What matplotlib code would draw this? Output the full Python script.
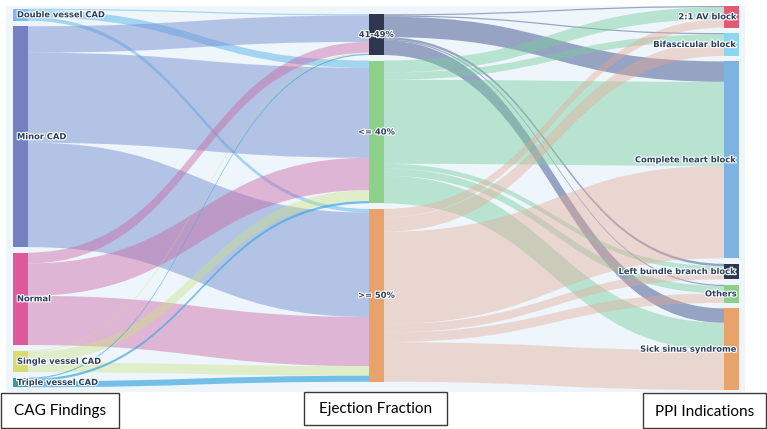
import matplotlib
matplotlib.use('Agg')
import matplotlib.pyplot as plt
import matplotlib.patheffects as pe
from matplotlib.path import Path
from matplotlib.patches import PathPatch, Rectangle

# --- data -------------------------------------------------------------
cag_nodes = ['Double vessel CAD', 'Minor CAD', 'Normal', 'Single vessel CAD', 'Triple vessel CAD']
ef_nodes = ['41-49%', '<= 40%', '>= 50%']
ppi_nodes = ['2:1 AV block', 'Bifascicular block', 'Complete heart block',
             'Left bundle branch block', 'Others', 'Sick sinus syndrome']

# rows: CAG finding, cols: ejection fraction group
cag_to_ef = [[1, 6, 3],
             [22, 75, 87],
             [9, 27, 41],
             [1, 9, 8],
             [1, 2, 5]]
# rows: ejection fraction group, cols: PPI indication
ef_to_ppi = [[1, 1, 17, 2, 1, 12],
             [10, 6, 70, 4, 6, 23],
             [7, 12, 77, 7, 8, 33]]

column_titles = ['CAG Findings', 'Ejection Fraction', 'PPI Indications']

# --- styles -----------------------------------------------------------
cag_colors = ['#82b9e4', '#7480c0', '#e0589c', '#d8dc70', '#2e9fb0']
ef_colors = ['#2f3650', '#8dd08a', '#e8a36c']
ppi_colors = ['#e05a72', '#8ed6f0', '#7eb2e2', '#2f3650', '#8dd08a', '#e8a36c']

cag_link = [(0.40, 0.72, 0.92, 0.55), (0.47, 0.57, 0.82, 0.5), (0.80, 0.40, 0.65, 0.45),
            (0.80, 0.88, 0.50, 0.4), (0.25, 0.66, 0.88, 0.7)]
ef_link = [(0.25, 0.32, 0.55, 0.5), (0.47, 0.80, 0.62, 0.45), (0.90, 0.66, 0.58, 0.4)]

W, H = 767, 429
col_x = [13, 369, 724]
node_w = 15
top, bottom = 6, 390
gap = 5.5
text_col = '#2a3f5f'


def col_totals_out(mat):
    return [sum(r) for r in mat]


def col_totals_in(mat):
    return [sum(r[j] for r in mat) for j in range(len(mat[0]))]


totals = [col_totals_out(cag_to_ef), col_totals_in(cag_to_ef), col_totals_in(ef_to_ppi)]
n_max = max(len(t) for t in totals)
scale = (bottom - top - gap * (n_max - 1)) / max(sum(t) for t in totals)
mid = (top + bottom) / 2

# node y positions (top, bottom) per column
node_pos = []
for t in totals:
    h = sum(t) * scale + gap * (len(t) - 1)
    y = mid - h / 2
    pos = []
    for v in t:
        pos.append([y, y + v * scale])
        y += v * scale + gap
    node_pos.append(pos)

fig = plt.figure(figsize=(W / 100, H / 100), dpi=100)
ax = fig.add_axes([0, 0, 1, 1])
ax.set_xlim(0, W)
ax.set_ylim(H, 0)
ax.axis('off')

ax.add_patch(Rectangle((6, 6), 739, 386, facecolor='#eef6fb', edgecolor='none', zorder=0))


def band(x0, a0, b0, x1, a1, b1, color):
    xm = (x0 + x1) / 2
    verts = [(x0, a0), (xm, a0), (xm, a1), (x1, a1), (x1, b1),
             (xm, b1), (xm, b0), (x0, b0), (x0, a0)]
    codes = [Path.MOVETO, Path.CURVE4, Path.CURVE4, Path.CURVE4, Path.LINETO,
             Path.CURVE4, Path.CURVE4, Path.CURVE4, Path.CLOSEPOLY]
    ax.add_patch(PathPatch(Path(verts, codes), facecolor=color, edgecolor='none', zorder=1))


def draw_links(mat, c, link_colors):
    src_pos, tgt_pos = node_pos[c], node_pos[c + 1]
    out_y = [p[0] for p in src_pos]
    in_y = [p[0] for p in tgt_pos]
    # offsets into target are ordered by source, into source by target
    in_off = {}
    for j in range(len(mat[0])):
        y = in_y[j]
        for i in range(len(mat)):
            in_off[(i, j)] = y
            y += mat[i][j] * scale
    for i, row in enumerate(mat):
        y = out_y[i]
        for j, v in enumerate(row):
            h = v * scale
            if v > 0:
                band(col_x[c] + node_w, y, y + h, col_x[c + 1],
                     in_off[(i, j)], in_off[(i, j)] + h, link_colors[i])
            y += h


draw_links(cag_to_ef, 0, cag_link)
draw_links(ef_to_ppi, 1, ef_link)

stroke = [pe.withStroke(linewidth=1.6, foreground='white')]
all_names = [cag_nodes, ef_nodes, ppi_nodes]
all_colors = [cag_colors, ef_colors, ppi_colors]
for c in range(3):
    for k, (y0, y1) in enumerate(node_pos[c]):
        ax.add_patch(Rectangle((col_x[c], y0), node_w, y1 - y0,
                               facecolor=all_colors[c][k], edgecolor='none', zorder=2))
        yc = (y0 + y1) / 2
        if c == 0:
            tx, ha = col_x[c] + 4, 'left'
        elif c == 1:
            tx, ha = col_x[c] + node_w / 2, 'center'
        else:
            tx, ha = col_x[c] + node_w - 2, 'right'
        ax.text(tx, yc, all_names[c][k], ha=ha, va='center', fontsize=6,
                fontweight='bold', color=text_col, path_effects=stroke, zorder=3)

# column title boxes
boxes = [(1, 393, 118, 35), (304, 392, 143, 33), (643, 393, 123, 35)]
for (bx, by, bw, bh), title in zip(boxes, column_titles):
    ax.add_patch(Rectangle((bx, by), bw, bh, facecolor='white', edgecolor='#3a3a3a',
                           linewidth=1, zorder=4))
    ax.text(bx + bw / 2, by + bh / 2 + 1, title, ha='center', va='center',
            fontsize=11, family='Lato', color='black', zorder=5)

fig.savefig('out.png', dpi=100)
